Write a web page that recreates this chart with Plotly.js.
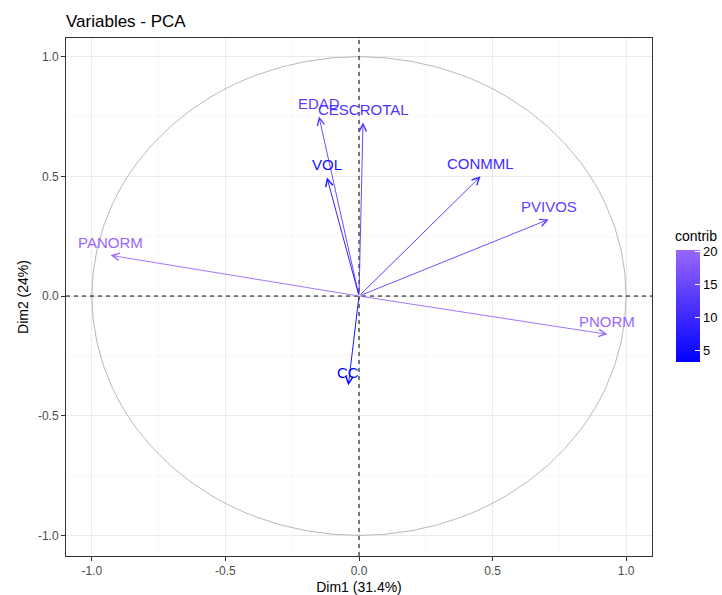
<!DOCTYPE html>
<html>
<head>
<meta charset="utf-8">
<script src="https://cdn.plot.ly/plotly-3.0.1.min.js"></script>
<style>html,body{margin:0;padding:0;background:#fff;}#chart{width:722px;height:595px;}</style>
</head>
<body>
<div id="chart"></div>
<script>
// Data
const variables = ["PNORM", "PANORM", "PVIVOS", "CONMML", "EDAD", "CESCROTAL", "VOL", "CC"];
const dim1 = [0.93, -0.93, 0.71, 0.455, -0.15, 0.015, -0.12, -0.04];
const dim2 = [-0.16, 0.17, 0.32, 0.50, 0.75, 0.725, 0.495, -0.373];
const contrib = [20.1, 20.2, 13.7, 10.3, 13.2, 11.9, 5.9, 3.2];
const xTickVals = [-1.0, -0.5, 0.0, 0.5, 1.0];
const xTickText = ["-1.0", "-0.5", "0.0", "0.5", "1.0"];
const yTickVals = [-1.0, -0.5, 0.0, 0.5, 1.0];
const yTickText = ["-1.0", "-0.5", "0.0", "0.5", "1.0"];
const cbTickVals = [5, 10, 15, 20];
const legendTitle = "contrib";

const FONT = "Liberation Sans, Arial, sans-serif";
const lowRGB = [0, 0, 255], highRGB = [153, 102, 255];
const cmin = Math.min(...contrib), cmax = Math.max(...contrib);
function colorFor(v) {
  const t = (v - cmin) / (cmax - cmin);
  const c = lowRGB.map((l, i) => Math.round(l + (highRGB[i] - l) * t));
  return `rgb(${c[0]},${c[1]},${c[2]})`;
}
const colors = contrib.map(colorFor);

const traces = [
  {
    type: "scatter", mode: "markers",
    x: dim1, y: dim2,
    marker: {
      size: 1, opacity: 0, color: contrib, cmin: cmin, cmax: cmax,
      colorscale: [[0, "#0000FF"], [1, "#9966FF"]],
      showscale: true,
      colorbar: {
        x: 1.041, xanchor: "left", xpad: 0,
        y: 0.4826, yanchor: "middle", ypad: 0,
        thickness: 24, thicknessmode: "pixels",
        len: 112, lenmode: "pixels",
        outlinewidth: 0,
        tickvals: cbTickVals,
        ticks: "inside", ticklen: 5, tickcolor: "#fff", tickwidth: 1,
        tickfont: {size: 13, color: "#000", family: FONT}
      }
    },
    hoverinfo: "skip", showlegend: false
  }
];

const arrows = variables.map((v, i) => ({
  x: dim1[i], y: dim2[i], xref: "x", yref: "y",
  ax: 0, ay: 0, axref: "x", ayref: "y",
  text: "", showarrow: true,
  arrowhead: 5, arrowsize: 1.6, arrowwidth: 0.9,
  arrowcolor: colors[i], standoff: 0, startstandoff: 0
}));
const labels = variables.map((v, i) => ({
  x: dim1[i], y: dim2[i], xref: "x", yref: "y",
  text: v, showarrow: false, yshift: 13,
  xanchor: "center", yanchor: "middle",
  font: {family: FONT, size: 15, color: colors[i]}
}));
const legendTitleAnn = {
  text: legendTitle, xref: "paper", yref: "paper",
  x: 1.0358, y: 0.6178, xanchor: "left", yanchor: "middle",
  showarrow: false, font: {family: FONT, size: 14, color: "#000"}
};

const axisCommon = {
  showgrid: true, gridcolor: "#EBEBEB", gridwidth: 1,
  minor: {dtick: 0.25, showgrid: true, gridcolor: "#F3F3F3", gridwidth: 0.6, ticks: ""},
  zeroline: false,
  showline: true, mirror: true, linecolor: "#333333", linewidth: 1,
  ticks: "outside", ticklen: 4, tickcolor: "#333333", tickwidth: 1,
  tickfont: {family: FONT, size: 12, color: "#4D4D4D"}
};

const layout = {
  width: 722, height: 595,
  margin: {l: 66, r: 70, t: 38, b: 39, autoexpand: false},
  paper_bgcolor: "#fff", plot_bgcolor: "#fff",
  title: {
    text: "Variables - PCA", x: 66 / 722, xanchor: "left", xref: "container",
    y: 1 - 27 / 595, yanchor: "bottom", yref: "container",
    font: {family: FONT, size: 17, color: "#000"}
  },
  xaxis: Object.assign({}, axisCommon, {
    range: [-1.097, 1.097], tickvals: xTickVals, ticktext: xTickText,
    title: {text: "Dim1 (31.4%)", standoff: 4, font: {family: FONT, size: 14, color: "#000"}}
  }),
  yaxis: Object.assign({}, axisCommon, {
    range: [-1.086, 1.078], tickvals: yTickVals, ticktext: yTickText,
    title: {text: "Dim2 (24%)", standoff: 6, font: {family: FONT, size: 14, color: "#000"}}
  }),
  shapes: [
    {type: "circle", xref: "x", yref: "y", x0: -1, y0: -1, x1: 1, y1: 1,
     line: {color: "#9A9A9A", width: 0.7}},
    {type: "line", xref: "x", yref: "paper", x0: 0, x1: 0, y0: 0, y1: 1,
     line: {color: "#000", width: 1, dash: "4px,4px"}},
    {type: "line", xref: "paper", yref: "y", x0: 0, x1: 1, y0: 0, y1: 0,
     line: {color: "#000", width: 1, dash: "4px,4px"}}
  ],
  annotations: arrows.concat(labels, [legendTitleAnn]),
  showlegend: false
};

Plotly.newPlot("chart", traces, layout, {displayModeBar: false, staticPlot: true});
</script>
</body>
</html>
